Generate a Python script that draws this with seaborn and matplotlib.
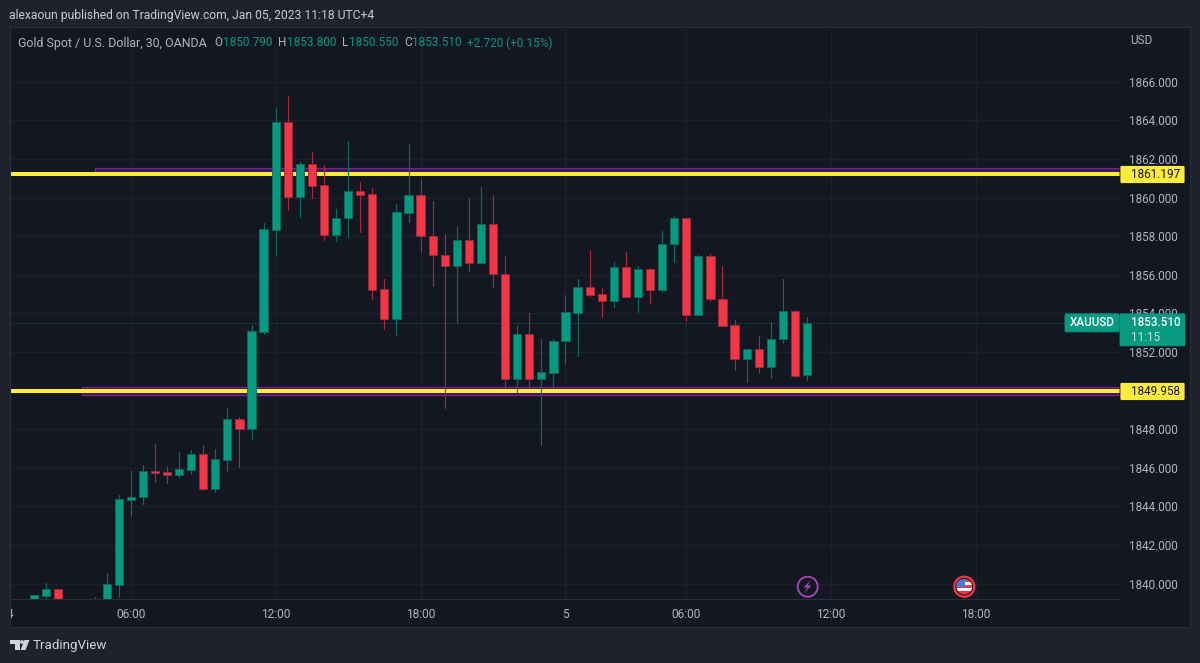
"""XAUUSD 30 minute candles, TradingView dark layout."""

import matplotlib

matplotlib.use("Agg")
import matplotlib.pyplot as plt
import numpy as np
import pandas as pd
import seaborn as sns
from matplotlib.patches import Circle, FancyBboxPatch, Polygon, Rectangle

opens = [1838.90, 1839.36, 1839.70, 1838.70, 1838.40, 1838.50, 1838.90, 1839.94, 1844.35, 1844.47,
         1845.83, 1845.78, 1845.64, 1845.89, 1846.72, 1844.92, 1846.40, 1848.53, 1847.99, 1853.04,
         1858.34, 1863.92, 1860.05, 1861.74, 1860.64, 1858.08, 1858.94, 1860.34, 1860.17, 1855.25,
         1853.71, 1859.22, 1860.13, 1858.01, 1857.03, 1856.47, 1857.80, 1856.61, 1858.62, 1856.06,
         1850.59, 1852.95, 1850.60, 1850.91, 1852.55, 1854.04, 1855.38, 1855.01, 1854.64, 1856.39,
         1854.85, 1856.28, 1855.20, 1857.58, 1858.93, 1853.90, 1856.96, 1854.75, 1853.38, 1851.62,
         1852.16, 1851.24, 1852.66, 1854.11, 1850.79]
highs = [1839.41, 1840.02, 1839.70, 1838.90, 1838.80, 1839.32, 1840.55, 1844.59, 1845.83, 1846.15,
         1847.23, 1846.09, 1846.82, 1846.92, 1847.17, 1846.99, 1849.10, 1848.62, 1853.40, 1858.68,
         1864.63, 1865.25, 1861.84, 1862.35, 1861.67, 1859.39, 1862.92, 1860.81, 1860.50, 1855.78,
         1859.65, 1862.78, 1860.95, 1859.82, 1858.11, 1858.53, 1859.98, 1860.53, 1860.12, 1856.97,
         1853.40, 1854.01, 1852.66, 1852.66, 1854.94, 1855.80, 1857.28, 1855.30, 1856.65, 1857.18,
         1856.47, 1856.34, 1858.27, 1859.05, 1858.93, 1857.03, 1857.06, 1856.46, 1853.66, 1852.16,
         1852.83, 1853.55, 1855.78, 1854.18, 1853.80]
lows = [1838.70, 1838.90, 1838.60, 1838.20, 1838.20, 1838.30, 1838.60, 1839.32, 1843.52, 1844.12,
        1845.26, 1845.23, 1845.51, 1845.68, 1844.87, 1844.76, 1845.85, 1846.06, 1847.51, 1852.93,
        1857.04, 1859.36, 1859.01, 1859.98, 1857.79, 1857.75, 1857.96, 1858.20, 1854.76, 1853.18,
        1852.88, 1858.72, 1857.17, 1855.42, 1849.11, 1853.49, 1856.21, 1856.61, 1855.38, 1850.19,
        1849.91, 1850.25, 1847.18, 1850.17, 1851.39, 1851.81, 1854.90, 1853.80, 1854.35, 1854.85,
        1854.07, 1854.55, 1855.12, 1856.68, 1853.59, 1853.90, 1854.63, 1853.35, 1851.05, 1850.43,
        1850.91, 1850.67, 1852.48, 1850.70, 1850.55]
closes = [1839.41, 1839.70, 1838.80, 1838.40, 1838.60, 1838.90, 1839.98, 1844.38, 1844.49, 1845.83,
          1845.75, 1845.64, 1845.92, 1846.72, 1844.92, 1846.44, 1848.53, 1847.99, 1853.07, 1858.37,
          1863.92, 1860.05, 1861.74, 1860.60, 1858.08, 1858.96, 1860.34, 1860.15, 1855.23, 1853.71,
          1859.24, 1860.13, 1858.01, 1857.03, 1856.47, 1857.80, 1856.61, 1858.62, 1856.06, 1850.59,
          1852.95, 1850.60, 1850.95, 1852.57, 1854.07, 1855.38, 1854.97, 1854.64, 1856.39, 1854.85,
          1856.28, 1855.20, 1857.58, 1858.93, 1853.90, 1856.96, 1854.75, 1853.35, 1851.62, 1852.16,
          1851.24, 1852.67, 1854.11, 1850.77, 1853.51]

price_ticks = [1840, 1842, 1844, 1846, 1848, 1850, 1852, 1854, 1856, 1858, 1860, 1862, 1864, 1866]
time_ticks = [-2, 8, 20, 32, 44, 54, 66, 78]
time_labels = ["4", "06:00", "12:00", "18:00", "5", "06:00", "12:00", "18:00"]

levels = [1861.197, 1849.958]
zone_start = [5, 4]
zone_top = [1861.52, 1850.17]
zone_bottom = [1861.20, 1849.79]
last_price = 1853.51

BG = "#131722"
PANEL = "#1e222d"
GRID = "#1c202b"
TEXT = "#b2b5be"
UP = "#089981"
DOWN = "#f23645"
UP_WICK = "#0d6c5f"
DOWN_WICK = "#a32a3c"
YELLOW = "#ffeb3b"
PURPLE = "#7b1fa2"

sns.set_theme(style="dark")
plt.rcParams["font.family"] = ["Roboto", "DejaVu Sans"]

df = pd.DataFrame({"open": opens, "high": highs, "low": lows, "close": closes})
df["idx"] = df.index
df["direction"] = np.where(df["close"] >= df["open"], "up", "down")
df["bottom"] = df[["open", "close"]].min(axis=1)
df["height"] = (df["close"] - df["open"]).abs()

wicks = df.melt(id_vars=["idx", "direction"], value_vars=["high", "low"], value_name="price")
wicks["candle"] = wicks["idx"]

fig = plt.figure(figsize=(12, 6.63), dpi=100, facecolor=PANEL)

# everything outside the plot is laid out in image pixels
back = fig.add_axes([0, 0, 1, 1], zorder=0)
back.set_xlim(0, 1200)
back.set_ylim(663, 0)
back.axis("off")
back.add_patch(Rectangle((10, 27), 1180, 600, fc=BG, ec="#2a2e39", lw=0.8))

ax = fig.add_axes([10 / 1200, (663 - 599) / 663, 1110 / 1200, 572 / 663], zorder=1)
ax.set_facecolor("none")

for level, start, top_edge, bottom_edge in zip(levels, zone_start, zone_top, zone_bottom):
    ax.add_patch(Rectangle((start, bottom_edge), 100, top_edge - bottom_edge, fc="#3a1a4f", ec=PURPLE, lw=0.9, zorder=1.2))
    ax.axhline(level, color=YELLOW, lw=2.9, zorder=1.5)
ax.axhline(last_price, color=UP, lw=0.8, ls=(0, (1, 1.5)), alpha=0.55, zorder=1.1)

sns.lineplot(data=wicks, x="idx", y="price", units="candle", estimator=None, sort=False,
             hue="direction", palette={"up": UP_WICK, "down": DOWN_WICK}, legend=False,
             linewidth=0.85, ax=ax, zorder=2)
for direction, colour, edge in [("up", UP, "#0a6b5c"), ("down", DOWN, "#9c2a3a")]:
    sub = df[df["direction"] == direction]
    sns.barplot(data=sub, x="idx", y="height", bottom=sub["bottom"].values, native_scale=True,
                width=0.68, color=colour, edgecolor=edge, linewidth=0.6, saturation=1,
                errorbar=None, ax=ax, zorder=3)

ax.set_xlim((11 - 33) / 12.1, (1121 - 33) / 12.1)
ax.set_ylim(1852 - 247 / 19.3, 1852 + 325 / 19.3)
ax.set_xticks(time_ticks, time_labels)
ax.set_yticks(price_ticks, [f"{p:.3f}" for p in price_ticks])
ax.yaxis.tick_right()
ax.tick_params(axis="x", length=0, pad=6.3, labelsize=8.6, labelcolor=TEXT)
ax.tick_params(axis="y", length=0, pad=6.8, labelsize=8.4, labelcolor=TEXT, right=False)
ax.set_xlabel("")
ax.set_ylabel("")
ax.grid(True, color=GRID, lw=1)
ax.set_axisbelow(True)
for name, spine in ax.spines.items():
    spine.set_visible(name == "bottom")
    spine.set_color("#2a2e39")
    spine.set_linewidth(0.8)

top = fig.add_axes([0, 0, 1, 1], zorder=2)
top.set_xlim(0, 1200)
top.set_ylim(663, 0)
top.axis("off")
top.add_patch(Rectangle((0, 27), 10, 600, fc=PANEL, ec="none"))
top.plot([10, 10], [27, 627], color="#2a2e39", lw=0.8)


def py(price):
    return 663 - ax.transData.transform((0, price))[1]


def tag(x0, x1, y0, y1, colour, edge=None):
    top.add_patch(FancyBboxPatch((x0 + 1, y0 + 1), x1 - x0 - 2, y1 - y0 - 2, boxstyle="round,pad=1,rounding_size=1.5",
                                 fc=colour, ec=edge or colour, lw=0.6, zorder=3))


def label(x, y, s, colour=TEXT, size=8.5, **kw):
    top.text(x, y, s, color=colour, fontsize=size, va="center", zorder=4, **kw)


for level in levels:
    yy = py(level)
    tag(1120, 1185, yy - 9, yy + 9, YELLOW, "#131722")
    label(1131, yy + 0.3, f"{level:.3f}", colour="#131722", size=8.4)

yy = py(last_price)
tag(1065, 1119, yy - 9, yy + 9, UP)
label(1070, yy, "XAUUSD", colour="white", fontweight="medium", size=8.4)
tag(1120, 1185, yy - 9, yy + 23, UP)
label(1131, yy, f"{last_price:.3f}", colour="white", fontweight="medium", size=8.4)
label(1131, yy + 15, "11:15", colour="#cfe9e4", size=8.4)

label(1130, 41, "USD")
label(9, 15.5, "alexaoun published on TradingView.com, Jan 05, 2023 11:18 UTC+4", colour="#c8cbd3", size=8.75)
label(18, 43, "Gold Spot / U.S. Dollar, 30, OANDA", size=8.95)
for x, s, colour in [(214, "O", TEXT), (223, "1850.790", UP), (278, "H", TEXT), (287, "1853.800", UP),
                     (342, "L", TEXT), (349, "1850.550", UP), (404, "C", TEXT), (412, "1853.510", UP),
                     (467, "+2.720 (+0.15%)", UP)]:
    label(x, 43, s, colour=colour)

# event markers on the time axis
top.add_patch(Circle((807.7, 586.7), 10, fc="none", ec="#ab47bc", lw=1.3, zorder=3))
top.add_patch(Polygon([(811, 580), (803.5, 587.5), (807.5, 587.5), (804, 593), (811.5, 585.5), (807.5, 585.5)],
                      fc="#ab47bc", ec="none", zorder=3))
top.add_patch(Circle((964.3, 586.7), 10, fc="none", ec=DOWN, lw=1.6, zorder=3))
disc = Circle((964.3, 586.7), 7.8, transform=top.transData)
for i, colour in enumerate([DOWN, "white", DOWN, "white", DOWN]):
    stripe = Rectangle((956, 579 + i * 3.1), 17, 3.1, fc=colour, ec="none", zorder=3)
    top.add_patch(stripe)
    stripe.set_clip_path(disc)
canton = Rectangle((956, 579), 8.5, 8, fc="#3f7fe0", ec="none", zorder=3.1)
top.add_patch(canton)
canton.set_clip_path(disc)

# logo
top.add_patch(Polygon([(10, 640), (19.5, 640), (19.5, 650), (15, 650), (15, 644), (10, 644)], fc="#d1d4dc", ec="none"))
top.add_patch(Circle((22, 642), 1.9, fc="#d1d4dc", ec="none"))
top.add_patch(Polygon([(24.5, 640), (29.5, 640), (25.5, 650), (20.5, 650)], fc="#d1d4dc", ec="none"))
label(33, 646, "TradingView", colour="#d1d4dc", size=9.6)

fig.savefig("out.png", dpi=100, facecolor=PANEL)
plt.close(fig)
